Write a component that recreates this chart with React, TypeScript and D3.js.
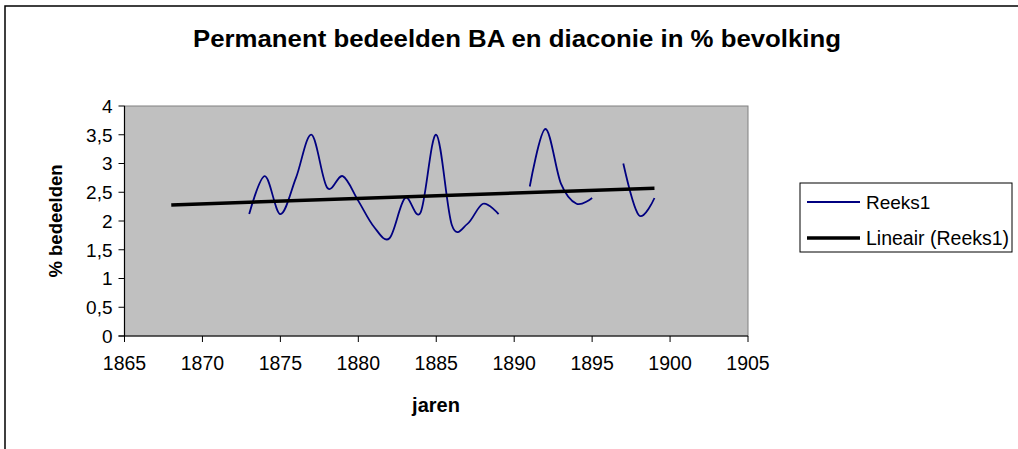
import * as d3 from "d3";

const width = 1018;
const height = 449;

// Reeks1 (gaps in 1890 and 1896)
const segmentYears = [
  [1873, 1874, 1875, 1876, 1877, 1878, 1879, 1880, 1881, 1882, 1883, 1884, 1885, 1886, 1887, 1888, 1889],
  [1891, 1892, 1893, 1894, 1895],
  [1897, 1898, 1899],
];
const segmentValues = [
  [2.12, 2.78, 2.12, 2.75, 3.5, 2.58, 2.78, 2.35, 1.9, 1.7, 2.4, 2.15, 3.5, 1.93, 1.95, 2.3, 2.12],
  [2.6, 3.6, 2.65, 2.3, 2.4],
  [3.0, 2.1, 2.4],
];
// Lineair (Reeks1)
const trendYears = [1868, 1899];
const trendValues = [2.28, 2.57];

const xTicks = [1865, 1870, 1875, 1880, 1885, 1890, 1895, 1900, 1905];
const yTicks = [0, 0.5, 1, 1.5, 2, 2.5, 3, 3.5, 4];

const plot = { left: 124.5, right: 748, top: 106, bottom: 336 };
const font = "Liberation Sans, Arial, sans-serif";

const App = () => {
  const x = d3.scaleLinear().domain([1865, 1905]).range([plot.left, plot.right]);
  const y = d3.scaleLinear().domain([0, 4]).range([plot.bottom, plot.top]);

  const smooth = d3
    .line<[number, number]>()
    .x((d) => x(d[0]))
    .y((d) => y(d[1]))
    .curve(d3.curveCardinal.tension(0));
  const straight = d3
    .line<[number, number]>()
    .x((d) => x(d[0]))
    .y((d) => y(d[1]));

  const segments = segmentYears.map((ys, i) =>
    ys.map((yr, j) => [yr, segmentValues[i][j]] as [number, number])
  );
  const trend = trendYears.map((yr, i) => [yr, trendValues[i]] as [number, number]);
  const fmt = (v: number) => String(v).replace(".", ",");

  return (
    <svg
      width={width}
      height={height}
      style={{ position: "absolute", left: 0, top: 0, background: "#fff" }}
      fontFamily={font}
    >
      <rect x={5} y={6} width={1100} height={600} fill="#fff" stroke="#000" strokeWidth={1.5} />
      <text
        x={517}
        y={47}
        textAnchor="middle"
        fontSize={24}
        fontWeight="bold"
        textLength={648}
        lengthAdjust="spacingAndGlyphs"
      >
        Permanent bedeelden BA en diaconie in % bevolking
      </text>

      <rect
        x={plot.left}
        y={plot.top}
        width={plot.right - plot.left}
        height={plot.bottom - plot.top}
        fill="#c0c0c0"
        stroke="#808080"
        strokeWidth={1}
      />
      <line x1={plot.left} x2={plot.left} y1={plot.top} y2={plot.bottom} stroke="#000" strokeWidth={1.2} />
      <line x1={plot.left - 6} x2={plot.right} y1={plot.bottom} y2={plot.bottom} stroke="#000" strokeWidth={1.2} />

      {yTicks.map((t) => (
        <g key={t}>
          <line x1={plot.left - 6} x2={plot.left} y1={y(t)} y2={y(t)} stroke="#000" />
          <text x={plot.left - 12} y={y(t)} dy="0.36em" textAnchor="end" fontSize={19}>
            {fmt(t)}
          </text>
        </g>
      ))}
      {xTicks.map((t) => (
        <g key={t}>
          <line x1={x(t)} x2={x(t)} y1={plot.bottom} y2={plot.bottom + 6} stroke="#000" />
          <text x={x(t)} y={plot.bottom + 34} textAnchor="middle" fontSize={19.5}>
            {t}
          </text>
        </g>
      ))}

      {segments.map((s, i) => (
        <path key={i} d={smooth(s) ?? ""} fill="none" stroke="#000080" strokeWidth={1.8} />
      ))}
      <path d={straight(trend) ?? ""} fill="none" stroke="#000" strokeWidth={3.5} />

      <text x={436} y={412} textAnchor="middle" fontSize={20} fontWeight="bold">
        jaren
      </text>
      <text
        transform={`translate(62,${(plot.top + plot.bottom) / 2}) rotate(-90)`}
        textAnchor="middle"
        fontSize={18.5}
        fontWeight="bold"
      >
        % bedeelden
      </text>

      <rect x={800} y={183} width={212} height={69} fill="#fff" stroke="#000" strokeWidth={1} />
      <line x1={807} x2={860} y1={202} y2={202} stroke="#000080" strokeWidth={1.8} />
      <text x={866} y={202} dy="0.36em" fontSize={19}>
        Reeks1
      </text>
      <line x1={807} x2={860} y1={238} y2={238} stroke="#000" strokeWidth={3.5} />
      <text x={866} y={238} dy="0.36em" fontSize={19.5}>
        Lineair (Reeks1)
      </text>
    </svg>
  );
};

export default App;
